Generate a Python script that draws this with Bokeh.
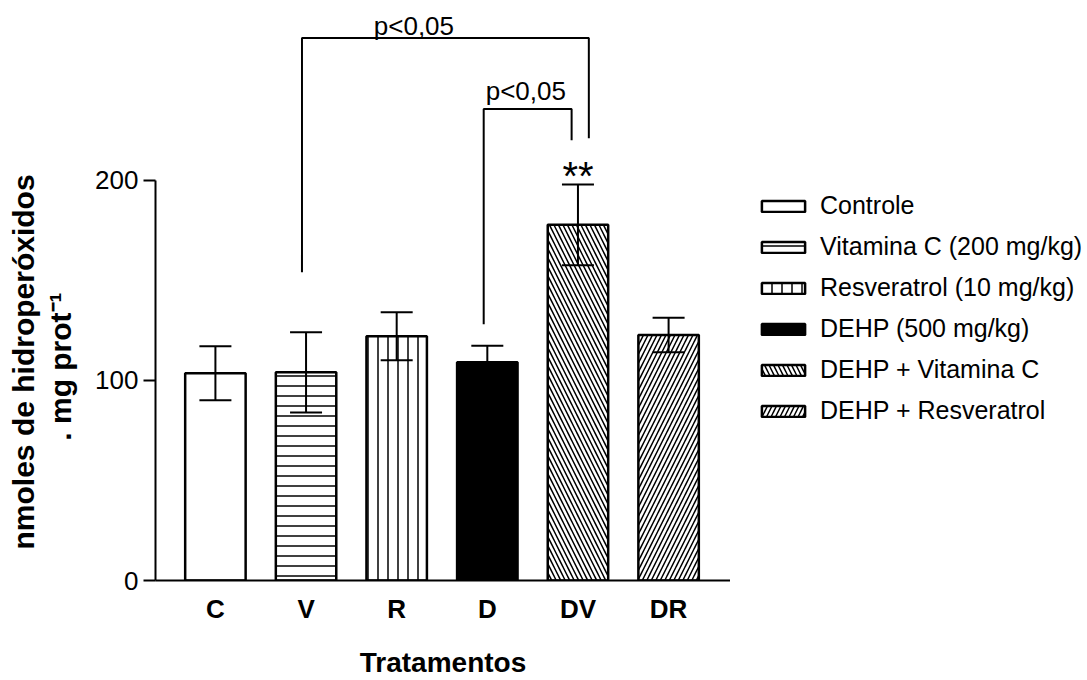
import math
import numpy as np
from bokeh.plotting import figure
from bokeh.layouts import row
from bokeh.models import (ColumnDataSource, Whisker, TeeHead, FixedTicker,
                          Legend, LegendItem, Range1d)
from bokeh.core.properties import value
from bokeh.embed import file_html
from bokeh.resources import INLINE

# ---- data ----
categories = ["C", "V", "R", "D", "DV", "DR"]
means = [103.5, 104.0, 122.0, 109.0, 177.7, 122.7]
sem = [13.5, 20.0, 12.0, 8.3, 20.2, 8.6]
legend_labels = ["Controle", "Vitamina C (200 mg/kg)", "Resveratrol (10 mg/kg)",
                 "DEHP (500 mg/kg)", "DEHP + Vitamina C", "DEHP + Resveratrol"]
fills = ["white", "white", "white", "black", "white", "white"]
hatches = [" ", "-", "|", " ", "\\", "/"]
hatch_scales = [10, 10, 10, 10, 9, 9]
y_ticks = [0, 100, 200]
x_title = "Tratamentos"
y_title_lines = ["nmoles de hidroperóxidos", ". mg prot\u207b\u00b9"]

# significance brackets (x in category index units, y in data units)
bracket_xs = [[0.955, 0.955, 4.12, 4.12], [2.96, 2.96, 3.93, 3.93]]
bracket_ys = [[154, 271, 271, 221], [128, 235.6, 235.6, 220]]
sig_x = [2.19, 3.425]
sig_y = [277.0, 244.5]
sig_text = ["p<0,05", "p<0,05"]
star_x = [4.0]
star_y = [202.0]
star_text = ["**"]

FONT = "Liberation Sans"
H = 680
LEFT_W, MAIN_W = 92, 638
RIGHT_W = 1087 - LEFT_W - MAIN_W

xs = list(range(len(categories)))
src = ColumnDataSource(dict(
    x=xs, top=means, fill=fills, hatch=hatches, hscale=hatch_scales,
    upper=[m + s for m, s in zip(means, sem)],
    lower=[m - s for m, s in zip(means, sem)],
))
# same bar styles, but without positions: used only for the legend swatches
legend_src = ColumnDataSource(dict(
    x=np.full(len(categories), np.nan), top=np.array(means, dtype=float),
    fill=fills, hatch=hatches, hscale=hatch_scales,
))
bar_style = dict(x="x", top="top", width=0.667, bottom=0,
                 fill_color="fill", line_color="black", line_width=2.5,
                 hatch_pattern="hatch", hatch_color="black", hatch_weight=1.5,
                 hatch_scale="hscale")


def bare(fig):
    fig.outline_line_color = None
    fig.xgrid.grid_line_color = None
    fig.ygrid.grid_line_color = None
    fig.background_fill_color = "white"
    fig.border_fill_color = "white"


# ---------- main chart ----------
p = figure(width=MAIN_W, height=H, output_backend="svg", toolbar_location=None,
           x_range=Range1d(-0.661, 5.683), y_range=Range1d(0, 284.8),
           min_border_left=62, min_border_right=0, min_border_top=10,
           min_border_bottom=99)
bare(p)

bars = p.vbar(source=src, **bar_style)

wh = Whisker(source=src, base="x", upper="upper", lower="lower",
             line_color="black", line_width=2, level="overlay",
             upper_head=TeeHead(size=32, line_width=2, line_color="black"),
             lower_head=TeeHead(size=32, line_width=2, line_color="black"))
p.add_layout(wh)

p.multi_line(xs=bracket_xs, ys=bracket_ys, line_color="black", line_width=2)
p.text(x=sig_x, y=sig_y, text=sig_text, text_align="center",
       text_baseline="alphabetic", text_font=value(FONT), text_font_size="26px",
       text_color="black")
p.text(x=star_x, y=star_y, text=star_text, text_align="center",
       text_baseline="alphabetic", text_font=value(FONT), text_font_size="40px",
       text_color="black")

xa = p.xaxis[0]
xa.ticker = FixedTicker(ticks=xs)
xa.major_label_overrides = {i: c for i, c in enumerate(categories)}
xa.axis_line_width = 2
xa.axis_line_color = "black"
xa.major_tick_line_color = None
xa.minor_tick_line_color = None
xa.major_tick_out = 0
xa.major_tick_in = 0
xa.major_label_text_font = FONT
xa.major_label_text_font_style = "bold"
xa.major_label_text_font_size = "26px"
xa.major_label_text_color = "black"
xa.major_label_standoff = 13
xa.axis_label = x_title
xa.axis_label_text_font = FONT
xa.axis_label_text_font_style = "bold"
xa.axis_label_text_font_size = "28px"
xa.axis_label_text_color = "black"
xa.axis_label_standoff = 20

ya = p.yaxis[0]
ya.ticker = FixedTicker(ticks=y_ticks)
ya.bounds = (0, 200)
ya.axis_line_width = 2
ya.axis_line_color = "black"
ya.major_tick_line_width = 2
ya.major_tick_line_color = "black"
ya.major_tick_out = 12
ya.major_tick_in = 0
ya.minor_tick_line_color = None
ya.major_label_text_font = FONT
ya.major_label_text_font_size = "26px"
ya.major_label_text_color = "black"
ya.major_label_standoff = 5

# ---------- left strip: two-line y-axis title (shares the y scale) ----------
pt = figure(width=LEFT_W, height=H, output_backend="svg", toolbar_location=None,
            x_range=Range1d(0, LEFT_W), y_range=p.y_range,
            x_axis_type=None, y_axis_type=None,
            min_border_left=0, min_border_right=0, min_border_top=10,
            min_border_bottom=99)
bare(pt)
pt.text(x=[23, 60], y=[109.2, 106.9], text=y_title_lines,
        angle=math.pi / 2, text_align="center", text_baseline="middle",
        text_font=value(FONT), text_font_style="bold", text_font_size="30px",
        text_color="black")

# ---------- right strip: legend ----------
pr = figure(width=RIGHT_W, height=H, output_backend="svg", toolbar_location=None,
            x_range=Range1d(0, RIGHT_W), y_range=p.y_range,
            x_axis_type=None, y_axis_type=None,
            min_border_left=0, min_border_right=0, min_border_top=10,
            min_border_bottom=99)
bare(pr)
proxy = pr.vbar(source=legend_src, **bar_style)

legend = Legend(items=[LegendItem(label=lab, renderers=[proxy], index=i)
                       for i, lab in enumerate(legend_labels)],
                location=(26, 155))
legend.label_text_font = FONT
legend.label_text_font_size = "25px"
legend.label_text_color = "black"
legend.glyph_width = 54
legend.glyph_height = 14
legend.label_standoff = 10
legend.spacing = 12
legend.padding = 0
legend.margin = 0
legend.border_line_color = None
legend.background_fill_alpha = 0
pr.add_layout(legend)

layout = row(pt, p, pr)
open("out.html", "w").write(file_html(layout, INLINE))
